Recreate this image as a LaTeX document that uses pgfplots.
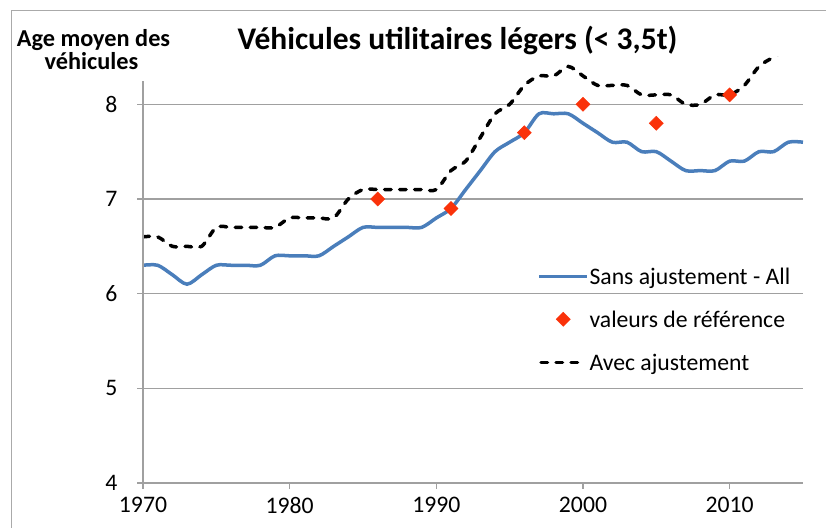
\documentclass[border=0pt]{standalone}
\usepackage{pgfplots}
\pgfplotsset{compat=1.18}
\usepackage{fontspec}
\setmainfont{Carlito}
\definecolor{serieblue}{RGB}{74,126,187}
\definecolor{refred}{RGB}{250,50,10}
\definecolor{gridgray}{RGB}{160,160,160}
\definecolor{framegray}{RGB}{170,170,170}
\pgfplotsset{dashlegend/.style={legend image code/.code={\draw[##1] (1.75bp,0bp) -- (40bp,0bp);}}}
\begin{document}
\begin{tikzpicture}
\begin{axis}[
  at={(143bp,45bp)}, anchor=south west,
  scale only axis, width=660bp, height=426bp,
  xmin=1970, xmax=2015, ymin=4, ymax=8.5,
  clip mode=individual,
  axis x line*=bottom, axis y line*=left,
  x axis line style={draw=gridgray, line width=1.5bp, -},
  y axis line style={draw=none, -},
  xtick={1970,1980,1990,2000,2010},
  xticklabels={1970,1980,1990,2000,2010},
  ytick={4,5,6,7,8},
  tick align=outside, major tick length=6bp,
  tick style={gridgray, line width=1.5bp},
  ymajorgrids, major grid style={gridgray, line width=1.5bp},
  tick label style={font=\fontsize{23.7bp}{28bp}\selectfont, black},
  xticklabel style={yshift=-5bp},
  yticklabel style={xshift=-16bp},
  /pgf/number format/assume math mode=true,
  legend style={at={(axis cs:1996.9,6.30)}, anchor=north west, draw=none, fill=none,
    inner sep=0pt, outer sep=0pt, row sep=21bp, column sep=0.5bp,
    font=\fontsize{23.7bp}{28bp}\selectfont,
    nodes={inner sep=0pt, text height=19bp, text depth=3bp}},
  legend cell align=left,
  legend image code/.code={\draw[mark repeat=2,mark phase=2,#1] plot coordinates {(0bp,0bp) (24bp,0bp) (48bp,0bp)};},
]
\addplot[serieblue, line width=3.5bp, smooth, tension=0.5, forget plot] coordinates {
(1970,6.3) (1971,6.3) (1972,6.2) (1973,6.1) (1974,6.2) (1975,6.3) (1976,6.3) (1977,6.3)
(1978,6.3) (1979,6.4) (1980,6.4) (1981,6.4) (1982,6.4) (1983,6.5) (1984,6.6) (1985,6.7)
(1986,6.7) (1987,6.7) (1988,6.7) (1989,6.7) (1990,6.8) (1991,6.9) (1992,7.1) (1993,7.3)
(1994,7.5) (1995,7.6) (1996,7.7) (1997,7.9) (1998,7.9) (1999,7.9) (2000,7.8) (2001,7.7)
(2002,7.6) (2003,7.6) (2004,7.5) (2005,7.5) (2006,7.4) (2007,7.3) (2008,7.3) (2009,7.3)
(2010,7.4) (2011,7.4) (2012,7.5) (2013,7.5) (2014,7.6) (2015,7.6)};
\addplot[black, line width=3.5bp, dash pattern=on 6.5bp off 8.5bp, line cap=round, smooth, tension=0.5, forget plot] coordinates {
(1970,6.6) (1971,6.6) (1972,6.5) (1973,6.5) (1974,6.5) (1975,6.7) (1976,6.7) (1977,6.7)
(1978,6.7) (1979,6.7) (1980,6.8) (1981,6.8) (1982,6.8) (1983,6.8) (1984,7.0) (1985,7.1)
(1986,7.1) (1987,7.1) (1988,7.1) (1989,7.1) (1990,7.1) (1991,7.3) (1992,7.4) (1993,7.65)
(1994,7.9) (1995,8.0) (1996,8.2) (1997,8.3) (1998,8.3) (1999,8.4) (2000,8.3) (2001,8.2)
(2002,8.2) (2003,8.2) (2004,8.1) (2005,8.1) (2006,8.1) (2007,8.0) (2008,8.0) (2009,8.1)
(2010,8.1) (2011,8.2) (2012,8.4) (2013,8.5) (2014,8.6) (2015,8.7)};
\addplot[only marks, mark=square*, mark size=5bp, mark options={rotate=45, fill=refred, draw=refred}, forget plot] coordinates {
(1986,7.0) (1991,6.9) (1996,7.7) (2000,8.0) (2005,7.8) (2010,8.1)};
\addlegendimage{serieblue, line width=3.5bp}
\addlegendentry{Sans ajustement - All}
\addlegendimage{only marks, mark=square*, mark size=5bp, mark options={rotate=45, fill=refred, draw=refred}}
\addlegendentry{valeurs de référence}
\addlegendimage{black, line width=3.5bp, dash pattern=on 6.5bp off 8.5bp, line cap=round, dashlegend}
\addlegendentry{Avec ajustement}
\draw[gridgray, line width=1.5bp] (axis cs:1970,4) -- (axis cs:1970,8.25);
\end{axis}
\node[anchor=base, font=\bfseries\fontsize{31.5bp}{36bp}\selectfont] at (457.5bp,478bp) {Véhicules utilitaires légers (< 3,5t)};
\node[anchor=base, font=\bfseries\fontsize{24.3bp}{28bp}\selectfont] at (93.5bp,481bp) {Age moyen des};
\node[anchor=base, font=\bfseries\fontsize{24.3bp}{28bp}\selectfont] at (91.5bp,458bp) {véhicules};
\draw[framegray, line width=1bp] (11bp,-20bp) rectangle (850bp,517bp);
\pgfresetboundingbox
\path[use as bounding box] (0bp,0bp) rectangle (826bp,528bp);
\end{tikzpicture}
\end{document}
